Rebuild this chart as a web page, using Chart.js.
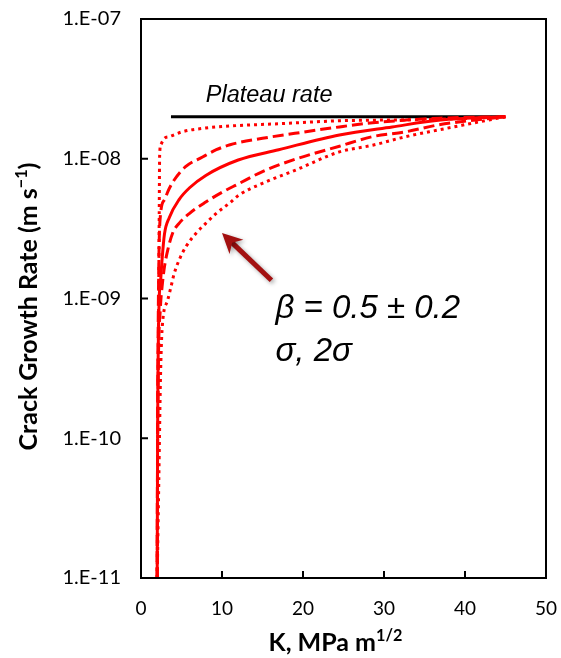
<!DOCTYPE html>
<html lang="en">
<head>
<meta charset="UTF-8">
<title>Crack growth rate vs K</title>
<script src="https://cdn.jsdelivr.net/npm/chart.js"></script>
<style>
  html, body { margin: 0; padding: 0; background: #fff; }
  #wrap { width: 561px; height: 658px; }
</style>
</head>
<body>
<div id="wrap"><canvas id="chart" width="561" height="658"></canvas></div>
<script>
// values: K (MPa m^1/2) and crack growth rate (m/s)
const kDot1 = [2.0, 2.08, 2.18, 2.25, 2.3, 2.45, 2.9, 3.5, 5.1, 8, 11.3, 17, 24.5, 33, 41, 45];
const vDot1 = [1e-11, 1e-10, 1e-9, 4e-9, 1.05e-8, 1.26e-8, 1.4e-8, 1.44e-8, 1.56e-8, 1.66e-8, 1.72e-8, 1.78e-8, 1.87e-8, 1.9e-8, 1.95e-8, 2.0e-8];

const kDash1 = [2.0, 2.05, 2.15, 2.4, 2.9, 3.3, 4.1, 5.5, 7.6, 9.3, 11, 15, 19, 24.5, 28.6, 32.7, 36.8, 45];
const vDash1 = [1e-11, 1e-10, 1e-9, 3.96e-9, 5.07e-9, 5.8e-9, 7.05e-9, 8.77e-9, 1.03e-8, 1.16e-8, 1.26e-8, 1.4e-8, 1.52e-8, 1.69e-8, 1.81e-8, 1.89e-8, 1.95e-8, 2.0e-8];

const kMid = [2.0, 2.05, 2.25, 2.4, 2.6, 2.9, 3.5, 4.7, 6, 8, 12, 17, 24.5, 31, 37, 45];
const vMid = [1e-11, 1e-10, 1e-9, 1.3e-9, 1.9e-9, 2.9e-9, 3.8e-9, 5.1e-9, 6.2e-9, 7.6e-9, 9.8e-9, 1.16e-8, 1.48e-8, 1.69e-8, 1.89e-8, 2.0e-8];

const kDash2 = [2.0, 2.05, 2.4, 2.6, 2.9, 3.3, 3.9, 4.7, 6, 8, 10, 12, 15, 19, 24.5, 28.6, 32.7, 36.8, 45];
const vDash2 = [1e-11, 1e-10, 8.7e-10, 1.21e-9, 1.69e-9, 2.22e-9, 2.93e-9, 3.45e-9, 4.07e-9, 4.9e-9, 5.75e-9, 6.6e-9, 8.1e-9, 9.9e-9, 1.23e-8, 1.44e-8, 1.56e-8, 1.75e-8, 2.0e-8];

const kDot2 = [2.0, 2.2, 2.4, 2.6, 3.3, 3.7, 4.1, 4.7, 5.55, 6.8, 8, 9.3, 10.9, 12.1, 15, 19.1, 24.5, 28.6, 32.7, 36.8, 45];
const vDot2 = [1e-11, 5e-11, 2.6e-10, 5.96e-10, 9.75e-10, 1.21e-9, 1.51e-9, 1.88e-9, 2.35e-9, 2.93e-9, 3.45e-9, 4.07e-9, 4.8e-9, 5.5e-9, 6.67e-9, 8.3e-9, 1.12e-8, 1.25e-8, 1.44e-8, 1.61e-8, 2.0e-8];

const kPlateau = [3.7, 44.9];
const vPlateau = [2.0e-8, 2.0e-8];

const xTicks = [0, 10, 20, 30, 40, 50];
const yTickValues = [1e-11, 1e-10, 1e-9, 1e-8, 1e-7];
const yTickLabels = ['1.E-11', '1.E-10', '1.E-09', '1.E-08', '1.E-07'];

const RED = '#ff0000';
const ARROW = '#a31010';
const FONT = 'Lato, "Open Sans", sans-serif';

function pts(ks, vs) {
    return ks.map((k, i) => ({ x: k, y: vs[i] }));
}

function curve(ks, vs, dash) {
    return {
        data: pts(ks, vs),
        borderColor: RED,
        borderWidth: 3,
        borderDash: dash,
        pointRadius: 0,
        fill: false,
        cubicInterpolationMode: 'monotone'
    };
}

// draws text with superscript pieces, centred on x
function drawRich(ctx, parts, x, y, size) {
    let total = 0;
    parts.forEach(p => {
        ctx.font = 'bold ' + (p.sup ? size * 0.65 : size) + 'px ' + FONT;
        p.w = ctx.measureText(p.t).width;
        total += p.w;
    });
    let cx = x - total / 2;
    parts.forEach(p => {
        ctx.font = 'bold ' + (p.sup ? size * 0.65 : size) + 'px ' + FONT;
        ctx.fillText(p.t, cx, p.sup ? y - size * 0.4 : y);
        cx += p.w;
    });
}

const decorations = {
    id: 'decorations',
    afterDraw(chart) {
        const { ctx, chartArea: a, scales } = chart;
        const xs = scales.x, ys = scales.y;
        ctx.save();

        // frame
        ctx.strokeStyle = '#000';
        ctx.lineWidth = 2;
        ctx.strokeRect(a.left, a.top, a.right - a.left, a.bottom - a.top);

        // inward tick marks
        ctx.beginPath();
        xTicks.forEach(t => {
            const px = xs.getPixelForValue(t);
            ctx.moveTo(px, a.bottom);
            ctx.lineTo(px, a.bottom - 7);
        });
        yTickValues.forEach(t => {
            const py = ys.getPixelForValue(t);
            ctx.moveTo(a.left, py);
            ctx.lineTo(a.left + 7, py);
        });
        ctx.stroke();

        // axis titles
        ctx.fillStyle = '#000';
        ctx.textBaseline = 'alphabetic';
        ctx.textAlign = 'left';
        drawRich(ctx, [{ t: 'K, MPa m' }, { t: '1/2', sup: true }], (a.left + a.right) / 2 - 8, 651, 25);
        ctx.save();
        ctx.translate(37, (a.top + a.bottom) / 2 + 8);
        ctx.rotate(-Math.PI / 2);
        drawRich(ctx, [{ t: 'Crack Growth Rate (m s' }, { t: '\u22121', sup: true }, { t: ')' }], 0, 0, 25);
        ctx.restore();

        // plateau label
        ctx.font = 'italic 23.5px "Liberation Sans", Arial, sans-serif';
        ctx.fillText('Plateau rate', xs.getPixelForValue(8.0), ys.getPixelForValue(2.55e-8));

        // beta annotation
        ctx.font = 'italic 33px "Liberation Sans", Arial, sans-serif';
        ctx.fillText('\u03b2 = 0.5 \u00b1 0.2', xs.getPixelForValue(16.6), ys.getPixelForValue(7.2e-10));
        ctx.fillText('\u03c3, 2\u03c3', xs.getPixelForValue(16.6), ys.getPixelForValue(3.6e-10));

        // arrow
        const tx = xs.getPixelForValue(10.0), ty = ys.getPixelForValue(2.94e-9);
        const sx = xs.getPixelForValue(16.1), sy = ys.getPixelForValue(1.35e-9);
        const ang = Math.atan2(ty - sy, tx - sx);
        ctx.shadowColor = 'rgba(0,0,0,0.35)';
        ctx.shadowBlur = 4;
        ctx.shadowOffsetX = 2;
        ctx.shadowOffsetY = 2;
        ctx.strokeStyle = ARROW;
        ctx.lineWidth = 5;
        ctx.lineCap = 'butt';
        ctx.beginPath();
        ctx.moveTo(sx, sy);
        ctx.lineTo(tx - 12 * Math.cos(ang), ty - 12 * Math.sin(ang));
        ctx.stroke();
        ctx.fillStyle = ARROW;
        ctx.beginPath();
        ctx.moveTo(tx, ty);
        ctx.lineTo(tx - 20 * Math.cos(ang) + 10 * Math.sin(ang), ty - 20 * Math.sin(ang) - 10 * Math.cos(ang));
        ctx.lineTo(tx - 14 * Math.cos(ang), ty - 14 * Math.sin(ang));
        ctx.lineTo(tx - 20 * Math.cos(ang) - 10 * Math.sin(ang), ty - 20 * Math.sin(ang) + 10 * Math.cos(ang));
        ctx.closePath();
        ctx.fill();

        ctx.restore();
    }
};

new Chart(document.getElementById('chart'), {
    type: 'line',
    data: {
        datasets: [
            curve(kDot1, vDot1, [3, 4]),
            curve(kDash1, vDash1, [11, 5]),
            curve(kMid, vMid, []),
            curve(kDash2, vDash2, [11, 5]),
            curve(kDot2, vDot2, [3, 4]),
            {
                data: pts(kPlateau, vPlateau),
                borderColor: '#000',
                borderWidth: 3,
                pointRadius: 0,
                fill: false
            }
        ]
    },
    options: {
        responsive: false,
        animation: false,
        layout: { padding: { top: 19, right: 15, left: 0, bottom: 0 } },
        plugins: {
            legend: { display: false },
            tooltip: { enabled: false }
        },
        scales: {
            x: {
                type: 'linear',
                min: 0,
                max: 50,
                afterFit: s => { s.height = 80; },
                afterBuildTicks: s => { s.ticks = xTicks.map(v => ({ value: v })); },
                grid: { display: false, drawTicks: true, tickLength: 19 },
                border: { display: false },
                ticks: {
                    padding: 0,
                    color: '#000',
                    font: { family: FONT, size: 19 },
                    maxRotation: 0
                }
            },
            y: {
                type: 'logarithmic',
                min: 1e-11,
                max: 1e-7,
                afterFit: s => { s.width = 141; },
                afterBuildTicks: s => { s.ticks = yTickValues.map(v => ({ value: v })); },
                grid: { display: false, drawTicks: true, tickLength: 20 },
                border: { display: false },
                ticks: {
                    padding: 0,
                    color: '#000',
                    font: { family: FONT, size: 20 },
                    callback: v => yTickLabels[yTickValues.indexOf(v)]
                }
            }
        }
    },
    plugins: [decorations]
});
</script>
</body>
</html>
